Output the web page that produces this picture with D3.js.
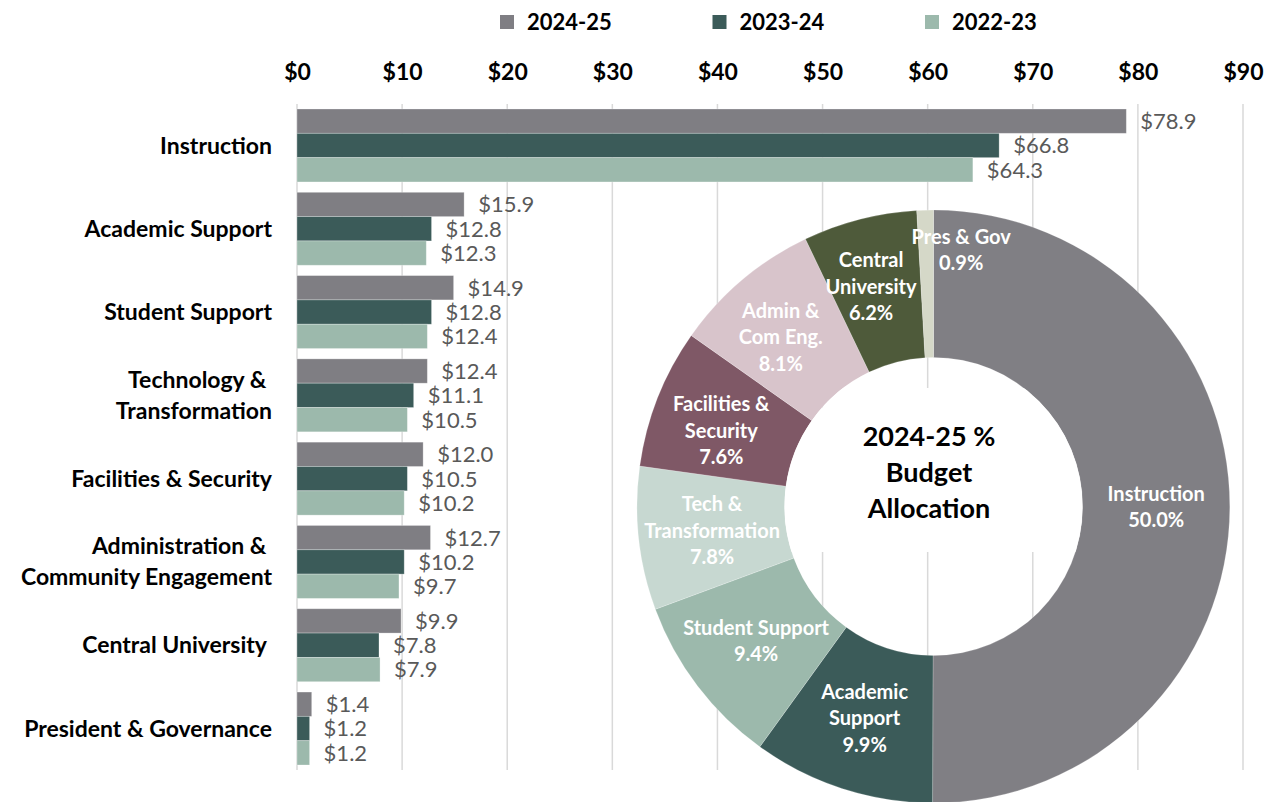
<!DOCTYPE html>
<html>
<head>
<meta charset="utf-8">
<script src="https://cdn.jsdelivr.net/npm/d3@7"></script>
<style>
  body { margin: 0; background: #ffffff; }
  text { font-family: Lato, "Noto Sans", sans-serif; }
  .cat { font-weight: 700; font-size: 23px; fill: #000; white-space: pre; }
  .tick text { font-weight: 700; font-size: 23px; fill: #000; }
  .val { font-size: 22px; fill: #595959; }
  .dlab { font-weight: 700; font-size: 20px; fill: #ffffff; }
  .title { font-weight: 700; font-size: 27px; fill: #000; }
  .leg { font-weight: 700; font-size: 22px; fill: #000; }
</style>
</head>
<body>
<div id="chart"></div>
<script>
// ---------------- data ----------------
var categories = ["Instruction", "Academic Support", "Student Support", "Technology & Transformation",
  "Facilities & Security", "Administration & Community Engagement", "Central University", "President & Governance"];
var catLines = [["Instruction"], ["Academic Support"], ["Student Support"], ["Technology & ", "Transformation"],
  ["Facilities & Security"], ["Administration & ", "Community Engagement"], ["Central University "], ["President & Governance"]];

var seriesNames = ["2024-25", "2023-24", "2022-23"];
var vals_2425 = [78.9, 15.9, 14.9, 12.4, 12.0, 12.7, 9.9, 1.4];
var vals_2324 = [66.8, 12.8, 12.8, 11.1, 10.5, 10.2, 7.8, 1.2];
var vals_2223 = [64.3, 12.3, 12.4, 10.5, 10.2, 9.7, 7.9, 1.2];
var seriesColors = ["#7f7e83", "#3b5b59", "#9cb9ac"];

var xTicks = [0, 10, 20, 30, 40, 50, 60, 70, 80, 90];

var donutNames = [["Instruction"], ["Academic", "Support"], ["Student Support"], ["Tech &", "Transformation"],
  ["Facilities &", "Security"], ["Admin &", "Com Eng."], ["Central", "University"], ["Pres & Gov"]];
var donutPct = [50.0, 9.9, 9.4, 7.8, 7.6, 8.1, 6.2, 0.9];
var donutColors = ["#807f84", "#3b5b59", "#9cb9ac", "#c7d8d1", "#7f5866", "#d8c4cb", "#4e5a3a", "#d5d8c8"];
var donutTitle = ["2024-25 %", "Budget", "Allocation"];

// ---------------- layout ----------------
var W = 1275, H = 802;
var svg = d3.select("#chart").append("svg").attr("width", W).attr("height", H);

var x = d3.scaleLinear().domain([0, 90]).range([297, 1243]);
var y = d3.scaleBand().domain(d3.range(categories.length)).range([104, 770])
  .paddingInner(0.124).paddingOuter(0.06);
var ySub = d3.scaleBand().domain(d3.range(seriesNames.length)).range([0, y.bandwidth()]);

// gridlines
svg.append("g").selectAll("line").data(xTicks).enter().append("line")
  .attr("x1", d => x(d)).attr("x2", d => x(d))
  .attr("y1", 104).attr("y2", 770)
  .attr("stroke", "#d9d9d9").attr("stroke-width", 1.5);

// top axis labels only
var axTop = svg.append("g").attr("transform", "translate(0,80)")
  .call(d3.axisTop(x).tickValues(xTicks).tickSize(0).tickPadding(0).tickFormat(d => "$" + d));
axTop.select(".domain").remove();

// legend
var leg = svg.append("g");
seriesNames.forEach(function(s, i) {
  var lx = 500 + i * 212.5;
  leg.append("rect").attr("x", lx).attr("y", 15).attr("width", 14).attr("height", 14)
    .attr("fill", seriesColors[i]);
  leg.append("text").attr("class", "leg").attr("x", lx + 27).attr("y", 30).text(s);
});

// bars
var allVals = [vals_2425, vals_2324, vals_2223];
allVals.forEach(function(vals, s) {
  svg.append("g").selectAll("rect").data(vals).enter().append("rect")
    .attr("x", x(0))
    .attr("y", (d, i) => y(i) + ySub(s))
    .attr("width", d => x(d) - x(0))
    .attr("height", ySub.bandwidth())
    .attr("fill", seriesColors[s])
    .attr("stroke", "#ffffff").attr("stroke-opacity", 0.35).attr("stroke-width", 0.8);
});

// category labels
catLines.forEach(function(lines, i) {
  var cy = y(i) + y.bandwidth() / 2;
  var t = svg.append("text").attr("class", "cat").attr("text-anchor", "end")
    .attr("xml:space", "preserve");
  lines.forEach(function(ln, k) {
    t.append("tspan").attr("x", 272)
      .attr("y", cy + (k - (lines.length - 1) / 2) * 31)
      .attr("dy", "0.35em").text(ln);
  });
});

// donut
var cx = 933.5, cy = 506.5, rOuter = 296.5, rInner = 149;
var pie = d3.pie().sort(null).value(d => d);
var arcs = pie(donutPct);
var arc = d3.arc().innerRadius(rInner).outerRadius(rOuter);
var labelArc = d3.arc().innerRadius((rInner + rOuter) / 2).outerRadius((rInner + rOuter) / 2);

var dg = svg.append("g").attr("transform", "translate(" + cx + "," + cy + ")");
dg.selectAll("path").data(arcs).enter().append("path")
  .attr("d", arc)
  .attr("fill", (d, i) => donutColors[i])
  .attr("stroke", "#ffffff").attr("stroke-width", 0.5).attr("stroke-opacity", 0.4);

// title box inside the hole (clipped to the hole)
svg.append("clipPath").attr("id", "hole").append("circle")
  .attr("cx", cx).attr("cy", cy).attr("r", rInner);
svg.append("rect").attr("x", cx - rInner).attr("y", 388)
  .attr("width", 2 * rInner).attr("height", 164).attr("fill", "#ffffff")
  .attr("clip-path", "url(#hole)");

// value labels on bars
allVals.forEach(function(vals, s) {
  svg.append("g").selectAll("text").data(vals).enter().append("text")
    .attr("class", "val")
    .attr("x", d => x(d) + 14)
    .attr("y", (d, i) => y(i) + ySub(s) + ySub.bandwidth() / 2)
    .attr("dy", "0.36em")
    .text(d => "$" + d.toFixed(1));
});

// donut labels
var labelShift = [[0, 0], [0, 0], [0, 0], [0, 0], [-5, 6], [-9, 1], [-7, -4], [34, -34]];
arcs.forEach(function(a, i) {
  var c = labelArc.centroid(a);
  var lines = donutNames[i].concat([donutPct[i].toFixed(1) + "%"]);
  var t = dg.append("text").attr("class", "dlab").attr("text-anchor", "middle");
  lines.forEach(function(ln, k) {
    t.append("tspan").attr("x", c[0] + labelShift[i][0])
      .attr("y", c[1] + labelShift[i][1] + (k - (lines.length - 1) / 2) * 26.5)
      .attr("dy", "0.35em").text(ln);
  });
});

// donut title
var tt = svg.append("text").attr("class", "title").attr("text-anchor", "middle");
donutTitle.forEach(function(ln, k) {
  tt.append("tspan").attr("x", 929).attr("y", 437 + k * 36).attr("dy", "0.35em").text(ln);
});
</script>
</body>
</html>
